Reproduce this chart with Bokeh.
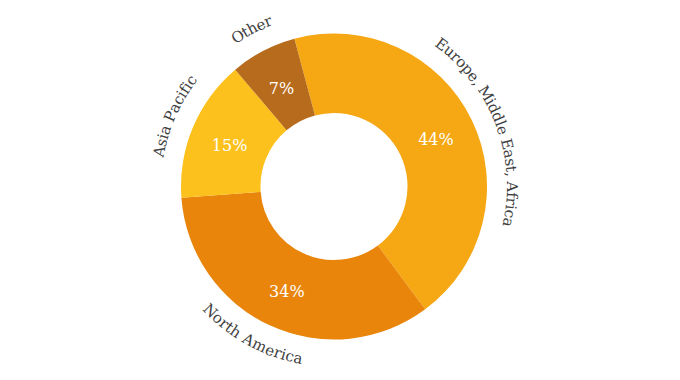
import math
from bokeh.plotting import figure
from bokeh.models import ColumnDataSource
from bokeh.core.properties import value
from bokeh.embed import file_html
from bokeh.resources import INLINE

categories = ["Europe, Middle East, Africa", "North America", "Asia Pacific", "Other"]
shares = [44, 34, 15, 7]
colors = ["#F5A814", "#E8850A", "#FCC11D", "#B76C1D"]
start_offset_deg = -15.0  # clockwise from 12 o'clock

W, H = 664, 372
CX, CY = 333.5, H - 186.0
R_OUT, R_IN = 153, 73.5
FONT = "DejaVu Serif"
LABEL_SIZE = 15
PCT_SIZE = 16
label_nudge_deg = [5.0, 4.0, 1.0, 0.0]   # fine placement of the curved labels

p = figure(width=W, height=H, x_range=(0, W), y_range=(0, H),
           output_backend="svg", toolbar_location=None, min_border=0)
p.axis.visible = False
p.grid.visible = False
p.outline_line_color = None
p.background_fill_color = "white"

total = sum(shares)
starts, ends, mids = [], [], []
acc = start_offset_deg
for s in shares:
    a0 = acc
    a1 = acc + 360.0 * s / total
    starts.append(a0)
    ends.append(a1)
    mids.append((a0 + a1) / 2)
    acc = a1

def to_math(th):
    return math.radians(90.0 - th)

src = ColumnDataSource(dict(
    x=[CX] * len(shares), y=[CY] * len(shares),
    start=[to_math(a) for a in starts], end=[to_math(a) for a in ends],
    color=colors))
p.annular_wedge(x="x", y="y", inner_radius=R_IN, outer_radius=R_OUT,
                start_angle="start", end_angle="end", direction="clock",
                fill_color="color", line_color=None, source=src)

# percentage labels
r_mid = (R_IN + R_OUT) / 2
px = [CX + r_mid * math.sin(math.radians(m)) for m in mids]
py = [CY + r_mid * math.cos(math.radians(m)) - 2.5 for m in mids]
p.text(x=px, y=py, text=[f"{s}%" for s in shares], text_color="white",
       text_font=value(FONT), text_font_size=f"{PCT_SIZE}px",
       text_align="center", text_baseline="middle")

# approximate glyph widths (em) for curved labels
WID = {" ": 0.32, ",": 0.32, "i": 0.32, "l": 0.32, "r": 0.48, "t": 0.4, "f": 0.37,
       "m": 0.95, "M": 0.95, "s": 0.51, "c": 0.56, "a": 0.6, "e": 0.59, "o": 0.6,
       "A": 0.72, "E": 0.73, "N": 0.82, "O": 0.79, "P": 0.69, "h": 0.64,
       "u": 0.64, "p": 0.64, "d": 0.64, "n": 0.64}

cx_, cy_, ct_, ca_ = [], [], [], []
for label, m, nudge in zip(categories, mids, label_nudge_deg):
    widths = [WID.get(ch, 0.6) * LABEL_SIZE for ch in label]
    tot = sum(widths)
    mm = (m + nudge) % 360
    bottom = 90 < mm < 270
    r = 175.5 if bottom else 178.0
    span = math.degrees(tot / r)
    cum = 0.0
    for ch, w in zip(label, widths):
        d = math.degrees((cum + w / 2) / r)
        if bottom:
            th = mm + span / 2 - d
            ang = math.radians(180 - th)
        else:
            th = mm - span / 2 + d
            ang = math.radians(-th)
        cx_.append(CX + r * math.sin(math.radians(th)))
        cy_.append(CY + r * math.cos(math.radians(th)))
        ct_.append(ch)
        ca_.append(ang)
        cum += w

p.text(x=cx_, y=cy_, text=ct_, angle=ca_, text_color="#404040",
       text_font=value(FONT), text_font_size=f"{LABEL_SIZE}px",
       text_align="center", text_baseline="middle")

open("out.html", "w").write(file_html(p, INLINE))
